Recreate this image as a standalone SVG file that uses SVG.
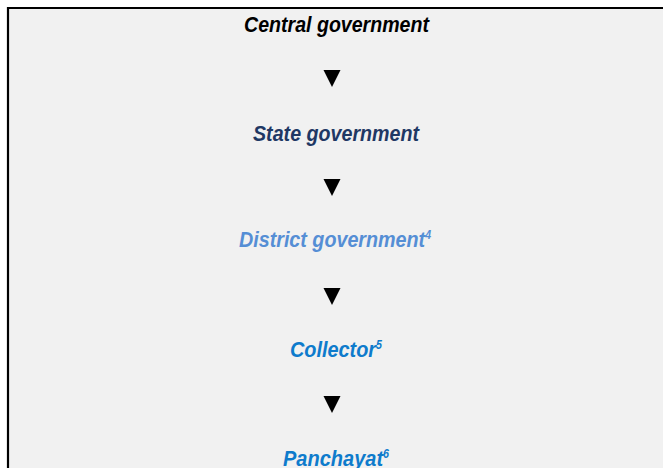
<svg xmlns="http://www.w3.org/2000/svg" width="663" height="468" viewBox="0 0 663 468">
  <style>
    .lbl { font-family: "Liberation Sans", Arial, sans-serif; font-size: 22.5px; font-weight: bold; font-style: italic; }
    .sup { font-size: 12px; }
    .arrow { fill: #000000; }
  </style>
  <rect x="0" y="0" width="663" height="468" fill="#ffffff"/>
  <!-- panel with heavy top/left rule -->
  <rect x="9" y="9" width="660" height="470" fill="#f1f1f1"/>
  <path d="M8 468 V8 H663" fill="none" stroke="#000000" stroke-width="2.2"/>

  <g id="central">
    <text class="lbl" x="244" y="31.5" fill="#000000" textLength="185" lengthAdjust="spacingAndGlyphs">Central government</text>
  </g>
  <g id="state">
    <text class="lbl" x="253" y="141" fill="#1f3864" textLength="166" lengthAdjust="spacingAndGlyphs">State government</text>
  </g>
  <g id="district">
    <text class="lbl" x="239" y="247" fill="#558ed5" textLength="192" lengthAdjust="spacingAndGlyphs">District government<tspan class="sup" dy="-8">4</tspan></text>
  </g>
  <g id="collector">
    <text class="lbl" x="290" y="357" fill="#0e7bcc" textLength="92" lengthAdjust="spacingAndGlyphs">Collector<tspan class="sup" dy="-8">5</tspan></text>
  </g>
  <g id="panchayat">
    <text class="lbl" x="283" y="466" fill="#0e7bcc" textLength="106" lengthAdjust="spacingAndGlyphs">Panchayat<tspan class="sup" dy="-8">6</tspan></text>
  </g>

  <g id="connectors">
    <polygon class="arrow" points="323.5,70 340.5,70 332,87"/>
    <polygon class="arrow" points="323.5,179 340.5,179 332,196"/>
    <polygon class="arrow" points="323.5,288 340.5,288 332,305"/>
    <polygon class="arrow" points="323.5,396 340.5,396 332,413"/>
  </g>
</svg>
